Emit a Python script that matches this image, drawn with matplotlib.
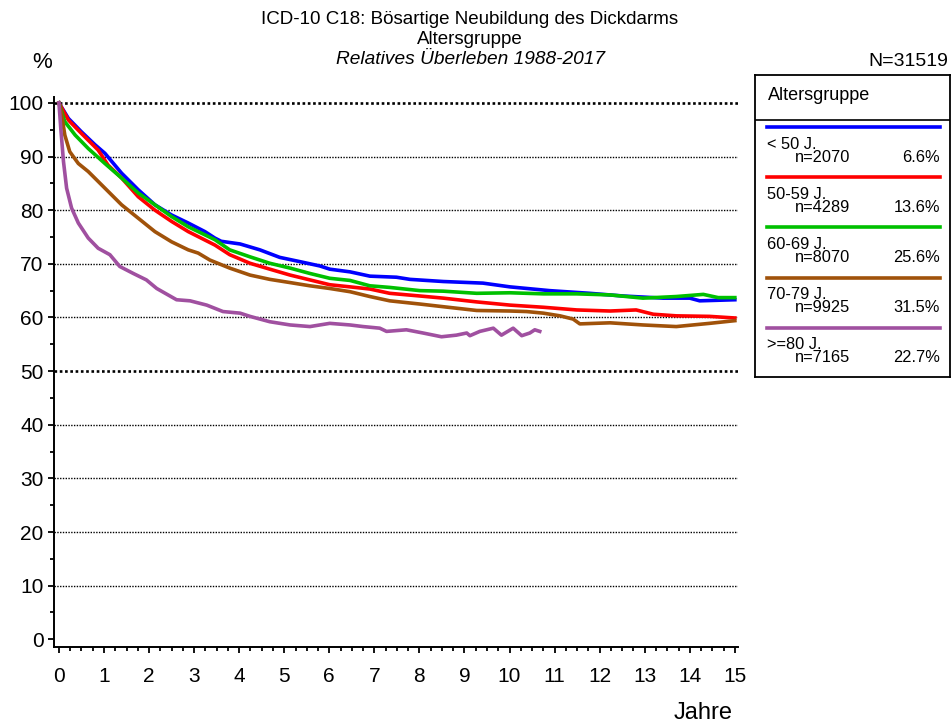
import numpy as np
import matplotlib
matplotlib.use("Agg")
import matplotlib.pyplot as plt

plt.rcParams['font.family'] = ['Liberation Sans', 'DejaVu Sans']

# ------------------------------------------------------------
# Data
# ------------------------------------------------------------
groups = ["< 50 J.", "50-59 J.", "60-69 J.", "70-79 J.", ">=80 J."]
counts = ["n=2070", "n=4289", "n=8070", "n=9925", "n=7165"]
shares = ["6.6%", "13.6%", "25.6%", "31.5%", "22.7%"]
colors = ["#0000FF", "#FF0000", "#00C000", "#A0520A", "#A050A0"]

t_u50 = [0, 0.21, 0.50, 0.80, 1.02, 1.39, 1.76, 2.13, 2.50, 2.87, 3.24, 3.46, 3.60, 4.02,
         4.46, 4.90, 5.35, 5.79, 6.01, 6.46, 6.90, 7.49, 7.79, 8.53, 9.41, 10.01, 10.89,
         11.78, 12.52, 13.41, 14.0, 14.22, 15.0]
v_u50 = [100, 97.1, 94.6, 92.2, 90.6, 86.9, 83.8, 81.0, 79.1, 77.6, 76.0, 74.8, 74.2, 73.7,
         72.6, 71.2, 70.4, 69.6, 69.0, 68.5, 67.7, 67.5, 67.1, 66.7, 66.4, 65.7, 65.0,
         64.5, 64.0, 63.6, 63.6, 63.1, 63.3]

t_50 = [0, 0.21, 0.50, 0.87, 1.09, 1.39, 1.76, 2.13, 2.50, 2.87, 3.46, 3.79, 4.24, 4.68,
        5.13, 5.57, 6.01, 6.46, 6.90, 7.34, 8.01, 8.53, 9.27, 10.01, 10.75, 11.49, 12.23,
        12.81, 13.19, 13.70, 14.44, 15.0]
v_50 = [100, 96.8, 94.3, 91.2, 88.4, 86.0, 82.5, 80.0, 77.9, 76.0, 73.5, 71.7, 70.1, 69.0,
        67.9, 67.0, 66.1, 65.7, 65.3, 64.5, 64.0, 63.6, 62.9, 62.3, 61.9, 61.4, 61.2,
        61.4, 60.6, 60.3, 60.2, 59.9]

t_60 = [0, 0.13, 0.36, 0.65, 1.02, 1.39, 1.76, 2.13, 2.50, 2.87, 3.46, 3.79, 4.24, 4.68,
        5.13, 5.57, 6.01, 6.46, 6.90, 7.34, 8.01, 8.53, 9.27, 10.01, 10.75, 11.49, 12.23,
        12.96, 13.70, 14.30, 14.63, 15.0]
v_60 = [100, 96.5, 94.0, 91.5, 88.7, 86.0, 83.2, 81.0, 78.8, 76.9, 74.5, 72.6, 71.3, 70.1,
        69.2, 68.2, 67.3, 66.9, 65.9, 65.6, 65.0, 64.9, 64.5, 64.6, 64.4, 64.4, 64.2,
        63.6, 63.9, 64.3, 63.7, 63.7]

t_70 = [0, 0.06, 0.13, 0.24, 0.43, 0.65, 1.02, 1.39, 1.76, 2.13, 2.50, 2.87, 3.09, 3.35,
        3.79, 4.24, 4.68, 5.13, 5.57, 6.01, 6.46, 6.90, 7.34, 8.01, 8.53, 9.27, 10.01,
        10.38, 10.75, 11.12, 11.41, 11.56, 12.23, 12.96, 13.70, 14.44, 15.0]
v_70 = [100, 97.8, 94.0, 90.9, 88.7, 87.2, 84.1, 81.0, 78.5, 76.0, 74.1, 72.6, 72.0, 70.7,
        69.2, 67.9, 67.1, 66.5, 65.9, 65.4, 64.8, 63.9, 63.1, 62.5, 62.0, 61.3, 61.2,
        61.1, 60.8, 60.3, 59.7, 58.8, 59.0, 58.6, 58.3, 58.9, 59.4]

t_80 = [0, 0.04, 0.10, 0.17, 0.28, 0.43, 0.65, 0.87, 1.13, 1.35, 1.65, 1.94, 2.17, 2.61,
        2.91, 3.28, 3.64, 4.02, 4.24, 4.68, 5.13, 5.57, 6.01, 6.46, 6.75, 7.12, 7.27,
        7.71, 8.08, 8.49, 8.82, 9.05, 9.12, 9.34, 9.64, 9.82, 10.08, 10.27, 10.45,
        10.56, 10.67]
v_80 = [100, 95.3, 89.1, 84.1, 80.4, 77.6, 74.8, 72.9, 71.7, 69.5, 68.2, 67.0, 65.4, 63.3,
        63.1, 62.3, 61.1, 60.8, 60.2, 59.2, 58.6, 58.3, 58.9, 58.6, 58.3, 58.0, 57.4,
        57.7, 57.1, 56.4, 56.7, 57.1, 56.6, 57.4, 58.0, 56.7, 58.0, 56.6, 57.1,
        57.7, 57.4]

times = [t_u50, t_50, t_60, t_70, t_80]
values = [v_u50, v_50, v_60, v_70, v_80]

# ------------------------------------------------------------
# Figure and main axes
# ------------------------------------------------------------
W, H = 952, 727
fig = plt.figure(figsize=(W / 100, H / 100), dpi=100)
ax = fig.add_axes([54 / W, 80 / H, 684 / W, 550 / H])

# dotted horizontal grid, 50 and 100 a bit heavier
for g in range(10, 101, 10):
    heavy = g in (50, 100)
    ax.axhline(g, color="black", lw=1.9 if heavy else 1.0,
               ls=(0, (1, 1)), zorder=1)

for t, v, c in zip(times, values, colors):
    ax.plot(t, v, color=c, lw=2.6, zorder=3, solid_joinstyle="round")

ax.set_xlim(-0.11, 15.07)
ax.set_ylim(-1.44, 101.1)
ax.set_xticks(range(0, 16))
ax.set_xticks(np.arange(0, 15.01, 0.25), minor=True)
ax.set_yticks(range(0, 101, 10))
ax.set_yticks(range(5, 100, 10), minor=True)

ax.spines["top"].set_visible(False)
ax.spines["right"].set_visible(False)
ax.spines["left"].set_linewidth(1.4)
ax.spines["bottom"].set_linewidth(1.4)

ax.tick_params(axis="both", which="major", length=4.5, width=1.3, labelsize=15)
ax.tick_params(axis="both", which="minor", length=3, width=1.3)
ax.tick_params(axis="x", which="major", pad=10)
ax.tick_params(axis="y", which="major", pad=3)

# ------------------------------------------------------------
# Titles and axis captions
# ------------------------------------------------------------
def px(x, y):
    return x / W, 1 - y / H

fig.text(*px(470, 20), "ICD-10 C18: Bösartige Neubildung des Dickdarms",
         ha="center", va="center", fontsize=13.5)
fig.text(*px(470, 39), "Altersgruppe", ha="center", va="center", fontsize=13.5)
fig.text(*px(470, 60), "Relatives Überleben 1988-2017", ha="center", va="center",
         fontsize=13.8, style="italic")
fig.text(*px(42, 63), "%", ha="center", va="center", fontsize=16)
fig.text(*px(948, 62), "N=31519", ha="right", va="center", fontsize=14)
fig.text(*px(703, 713), "Jahre", ha="center", va="center", fontsize=17)

# ------------------------------------------------------------
# Legend box (drawn by hand, pixel units inside the box)
# ------------------------------------------------------------
lg = fig.add_axes([755 / W, (H - 377) / H, 195 / W, 302 / H])
lg.set_xlim(0, 195)
lg.set_ylim(302, 0)
lg.set_xticks([])
lg.set_yticks([])
for s in lg.spines.values():
    s.set_linewidth(1.3)

lg.text(13, 20, "Altersgruppe", ha="left", va="center", fontsize=13)
lg.plot([0, 195], [45, 45], color="black", lw=1.2)

step = 50.2
for i, (g, n, p, c) in enumerate(zip(groups, counts, shares, colors)):
    y0 = 52 + step * i
    lg.plot([12, 185], [y0, y0], color=c, lw=2.6)
    lg.text(12, y0 + 17, g, ha="left", va="center", fontsize=11.8)
    lg.text(40, y0 + 30, n, ha="left", va="center", fontsize=11.8)
    lg.text(185, y0 + 30, p, ha="right", va="center", fontsize=11.8)

fig.savefig("out.png", dpi=100)
